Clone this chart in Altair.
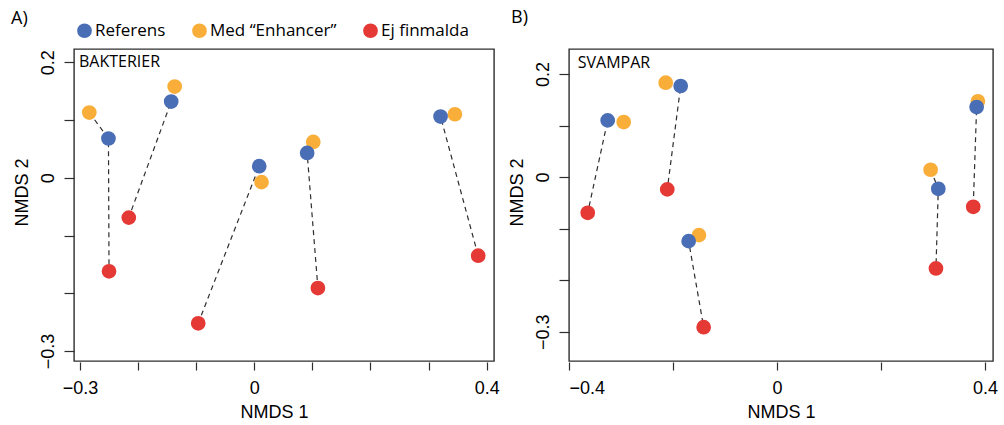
import altair as alt
import pandas as pd

# NMDS ordination scores, five samples per group, three treatments each
groups = ["Referens", "Med “Enhancer”", "Ej finmalda"]
colors = ["#4a6eb5", "#f9ae3a", "#e53935"]

bakt_ref_x = [-0.251, -0.143, 0.0085, 0.091, 0.3206]
bakt_ref_y = [0.068, 0.132, 0.020, 0.043, 0.106]
bakt_enh_x = [-0.284, -0.137, 0.0125, 0.1015, 0.3453]
bakt_enh_y = [0.113, 0.158, -0.0075, 0.062, 0.110]
bakt_ej_x = [-0.250, -0.216, -0.0965, 0.1095, 0.3854]
bakt_ej_y = [-0.162, -0.069, -0.252, -0.191, -0.135]

svamp_ref_x = [-0.3256, -0.1852, -0.1699, 0.3103, 0.384]
svamp_ref_y = [0.110, 0.1767, -0.1243, -0.0227, 0.1359]
svamp_enh_x = [-0.2948, -0.214, -0.150, 0.2955, 0.3865]
svamp_enh_y = [0.1068, 0.1831, -0.1126, 0.0142, 0.147]
svamp_ej_x = [-0.364, -0.211, -0.141, 0.3058, 0.3775]
svamp_ej_y = [-0.0693, -0.0239, -0.2913, -0.1773, -0.0577]

bakt_x_ticks = [-0.3, -0.2, -0.1, 0, 0.1, 0.2, 0.3, 0.4]
svamp_x_ticks = [-0.4, -0.2, 0, 0.2, 0.4]
y_ticks = [-0.3, -0.2, -0.1, 0, 0.1, 0.2]
bakt_x_labels = [-0.3, 0, 0.4]
svamp_x_labels = [-0.4, 0, 0.4]
y_labels = [-0.3, 0, 0.2]

AXIS_FONT = "Liberation Sans"
TEXT_FONT = "Open Sans"
INK = "#2e2e2e"


def build_frame(ref_x, ref_y, enh_x, enh_y, ej_x, ej_y):
    rows = []
    # path order along each sample: enhancer -> reference -> unground;
    # draw order puts the reference dot on top
    series = [
        (groups[1], enh_x, enh_y, 0, 0),
        (groups[0], ref_x, ref_y, 1, 2),
        (groups[2], ej_x, ej_y, 2, 1),
    ]
    for name, xs, ys, seq, z in series:
        for i, (xv, yv) in enumerate(zip(xs, ys)):
            rows.append({"sample": i, "treatment": name, "x": xv, "y": yv,
                         "seq": seq, "z": z})
    return pd.DataFrame(rows)


def label_expr(shown):
    arr = ", ".join(str(v) for v in shown)
    return f"indexof([{arr}], datum.value) >= 0 ? datum.label : ''"


def panel(df, name, tag, xdom, ydom, xticks, xshown, width, height,
          name_pos, tag_pos, x_title_x, show_legend):
    x_enc = alt.X(
        "x:Q",
        scale=alt.Scale(domain=xdom, nice=False, zero=False),
        axis=alt.Axis(values=xticks, labelExpr=label_expr(xshown), format=".1~f",
                      title="NMDS 1", offset=1, tickSize=8, labelPadding=23,
                      labelBaseline="alphabetic", titleBaseline="alphabetic",
                      titleY=55, titleX=x_title_x, grid=False, domain=False,
                      labelFont=AXIS_FONT, labelFontSize=18, labelColor="black",
                      titleFont=AXIS_FONT, titleFontSize=18, titleColor="black",
                      titleFontWeight="normal", tickColor=INK, tickWidth=1.2),
    )
    y_enc = alt.Y(
        "y:Q",
        scale=alt.Scale(domain=ydom, nice=False, zero=False),
        axis=alt.Axis(values=y_ticks, labelExpr=label_expr(y_labels), format=".1~f",
                      title="NMDS 2", tickSize=10, labelPadding=11, labelAngle=270,
                      labelAlign="center", labelBaseline="alphabetic",
                      titleAngle=270, titleBaseline="alphabetic", titleAlign="center",
                      titleX=-47, titleY=143, grid=False, domain=False,
                      labelFont=AXIS_FONT, labelFontSize=18, labelColor="black",
                      titleFont=AXIS_FONT, titleFontSize=18, titleColor="black",
                      titleFontWeight="normal", tickColor=INK, tickWidth=1.2),
    )
    base = alt.Chart(df)
    lines = base.mark_line(strokeDash=[5, 4], color=INK, strokeWidth=1.2).encode(
        x=x_enc, y=y_enc, detail="sample:N", order="seq:Q"
    )
    if show_legend:
        legend = alt.Legend(orient="none", legendX=2, legendY=-27, direction="horizontal",
                            title=None, symbolType="circle", symbolSize=217,
                            symbolStrokeWidth=0, symbolOpacity=1, labelFont=TEXT_FONT,
                            labelFontSize=17, labelColor="black", labelOffset=2,
                            columnPadding=25, padding=0)
    else:
        legend = None
    color = alt.Color("treatment:N", scale=alt.Scale(domain=groups, range=colors),
                      sort=groups, legend=legend)
    points = base.mark_point(filled=True, size=217, opacity=1).encode(
        x=x_enc, y=y_enc, color=color, order="z:Q"
    )
    name_text = alt.Chart(pd.DataFrame({"t": [name]})).mark_text(
        align="left", baseline="alphabetic", font=TEXT_FONT, fontSize=16, color="black"
    ).encode(x=alt.value(name_pos[0]), y=alt.value(name_pos[1]), text="t:N")
    tag_text = alt.Chart(pd.DataFrame({"t": [tag]})).mark_text(
        align="left", baseline="alphabetic", font=TEXT_FONT, fontSize=18, color="black"
    ).encode(x=alt.value(tag_pos[0]), y=alt.value(tag_pos[1]), text="t:N")
    return alt.layer(lines, points, name_text, tag_text).properties(
        width=width, height=height
    )


bakt = build_frame(bakt_ref_x, bakt_ref_y, bakt_enh_x, bakt_enh_y, bakt_ej_x, bakt_ej_y)
svamp = build_frame(svamp_ref_x, svamp_ref_y, svamp_enh_x, svamp_enh_y, svamp_ej_x, svamp_ej_y)

left = panel(bakt, "BAKTERIER", "A)", [-0.3103, 0.4126], [-0.3173, 0.2230],
             bakt_x_ticks, bakt_x_labels, 420, 312, (5, 18.3), (-63, -25), 200, True)
right = panel(svamp, "SVAMPAR", "B)", [-0.4, 0.4155], [-0.3569, 0.2485],
              svamp_x_ticks, svamp_x_labels, 424, 312, (8.7, 19.3), (-58, -25.7), 212, False)

chart = alt.hconcat(left, right, spacing=75, bounds="flush").resolve_legend(
    color="independent"
).properties(
    padding={"left": 10, "top": 8, "right": 3, "bottom": 3},
    background="white",
).configure_view(
    stroke=INK, strokeWidth=1.4
)

chart.save("out.html", embed_options={"renderer": "svg", "actions": False})
